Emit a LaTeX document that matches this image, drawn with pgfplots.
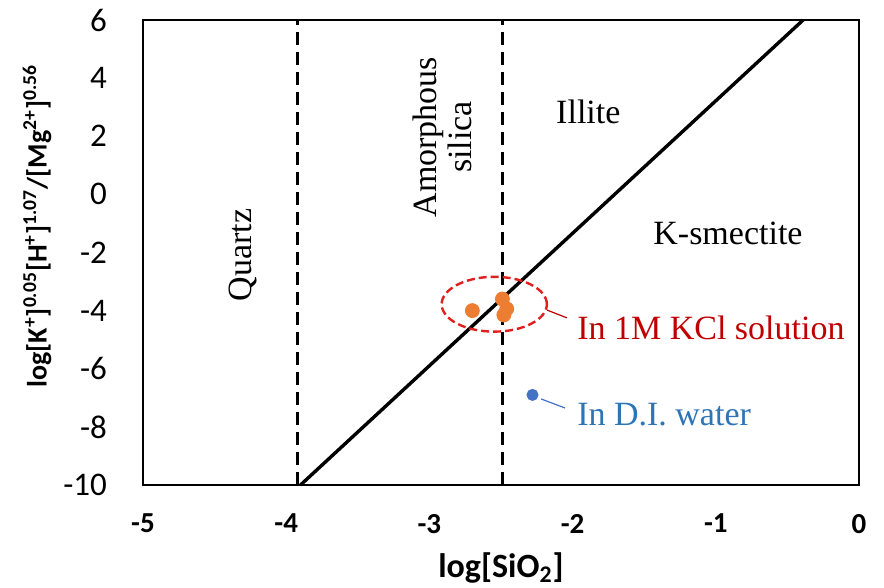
\documentclass[border=0pt]{standalone}
\usepackage{fontspec}
\setmainfont{Liberation Serif}
\newfontfamily\calibri{Carlito}
\usepackage{pgfplots}
\pgfplotsset{compat=1.18}
\definecolor{kor}{HTML}{ED7D31}
\definecolor{kbl}{HTML}{4472C4}
\definecolor{kred}{HTML}{C00000}
\definecolor{kellipse}{HTML}{E0201E}
\definecolor{kdi}{HTML}{2E75B6}
\begin{document}
\begin{tikzpicture}
\begin{axis}[
  scale only axis,
  width=358pt, height=232.5pt,
  xmin=-5, xmax=0, ymin=-10, ymax=6,
  xtick={-5,-4,-3,-2,-1,0},
  ytick={-10,-8,-6,-4,-2,0,2,4,6},
  major tick length=0pt,
  axis line style={line width=0.8pt},
  /pgf/number format/assume math mode=true,
  xticklabel style={font=\calibri\bfseries\fontsize{14.5}{16}\selectfont},
  yticklabel style={font=\calibri\fontsize{16.5}{18}\selectfont},
  xtick align=outside, ytick align=outside,
  yticklabel shift=14.5pt,
  xticklabel shift=11pt,
  clip=false,
]
% boundaries
\addplot[black, line width=1.5pt, dash pattern=on 6.5pt off 3.5pt] coordinates {(-3.92,-10) (-3.92,6)};
\addplot[black, line width=1.5pt, dash pattern=on 6.5pt off 3.5pt] coordinates {(-2.49,-10) (-2.49,6)};
\addplot[black, line width=1.7pt] coordinates {(-3.90,-10) (-0.39,6)};
% data
\addplot[only marks, mark=*, mark size=3.5pt, kor, mark options={draw=kor, fill=kor}] coordinates {(-2.70,-4.00) (-2.49,-3.60) (-2.46,-3.94) (-2.48,-4.15)};
\addplot[only marks, mark=*, mark size=2.8pt, kbl, mark options={draw=kbl, fill=kbl}] coordinates {(-2.28,-6.90)};
% leaders
\addplot[kred, line width=0.6pt] coordinates {(-2.179,-3.98) (-2.039,-4.25)};
\addplot[kbl, line width=0.6pt] coordinates {(-2.22,-7.04) (-2.053,-7.35)};
\draw[kellipse, line width=1.2pt, dash pattern=on 4pt off 2pt] (axis cs:-2.547,-3.78) ellipse [x radius=26.3pt, y radius=13.7pt];
% labels
\node[rotate=90, font=\fontsize{17}{18}\selectfont] at (axis cs:-4.30,-2.09) {Quartz};
\node[rotate=90, align=center, font=\fontsize{17}{17.5}\selectfont] at (axis cs:-2.907,1.97) {Amorphous\\silica};
\node[font=\fontsize{17}{18}\selectfont] at (axis cs:-1.89,2.83) {Illite};
\node[font=\fontsize{17}{18}\selectfont] at (axis cs:-0.915,-1.33) {K-smectite};
\node[anchor=west, inner sep=0pt, kred, font=\fontsize{17}{18}\selectfont] at (axis cs:-1.97,-4.6) {In 1M KCl solution};
\node[anchor=west, inner sep=0pt, kdi, font=\fontsize{17}{18}\selectfont] at (axis cs:-1.97,-7.59) {In D.I. water};
% axis labels
\node[rotate=90, font=\calibri\bfseries\fontsize{14}{16}\selectfont] at (axis description cs:-0.148,0.557) {log[K\textsuperscript{+}]\textsuperscript{0.05}[H\textsuperscript{+}]\textsuperscript{1.07}/[Mg\textsuperscript{2+}]\textsuperscript{0.56}};
\node[font=\calibri\bfseries\fontsize{17}{19}\selectfont, inner sep=1pt] at (axis description cs:0.5,-0.178) {log[SiO\textsubscript{2}]};
\end{axis}
\pgfresetboundingbox
\path[use as bounding box] (-71.5pt,-51.5pt) rectangle (370.5pt,242.5pt);
\end{tikzpicture}
\end{document}
